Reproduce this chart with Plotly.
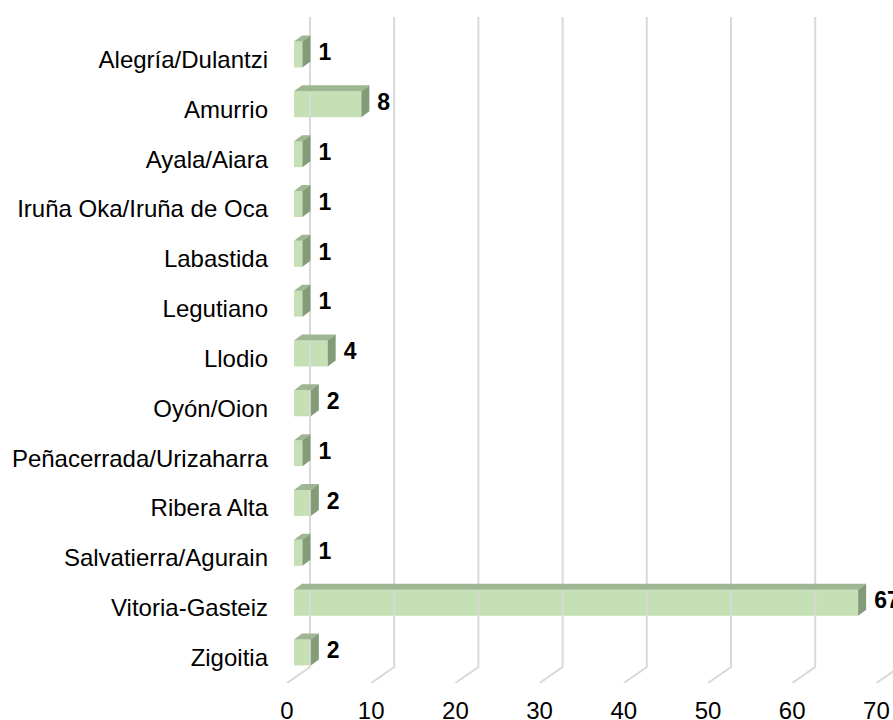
import plotly.graph_objects as go

# ---- data ----
categories = ["Alegría/Dulantzi", "Amurrio", "Ayala/Aiara", "Iruña Oka/Iruña de Oca",
              "Labastida", "Legutiano", "Llodio", "Oyón/Oion", "Peñacerrada/Urizaharra",
              "Ribera Alta", "Salvatierra/Agurain", "Vitoria-Gasteiz", "Zigoitia"]
values = [1, 8, 1, 1, 1, 1, 4, 2, 1, 2, 1, 67, 2]
x_ticks = [0, 10, 20, 30, 40, 50, 60, 70]

# ---- layout geometry (page pixels) ----
W, H = 893, 720
L = 271
T = 15
B = H - 683
R = 0
X0_PX, PX_PER_UNIT = 287.0, 8.42      # floor-front zero and scale
Y0_PX, PX_PER_ROW = 54.5, 49.83       # first row centre and row pitch


def dxu(px):
    return px / PX_PER_UNIT


def dyu(px):
    return px / PX_PER_ROW


x_range = [(L - X0_PX) / PX_PER_UNIT, (W - R - X0_PX) / PX_PER_UNIT]
y_range = [(H - B - Y0_PX) / PX_PER_ROW, (T - Y0_PX) / PX_PER_ROW]

rows = list(range(len(categories)))

FRONT = "#c5e0b4"
TOP = "#9fb693"
SIDE = "#839b77"
GRID = "#d9d9d9"

base = dxu(7)          # bar front face start
half_h = dyu(26) / 2   # half height of front face
ddx = dxu(8)           # depth offset x
ddy = dyu(6)           # depth offset y (upwards)

wall_dx = dxu(23)
y_grid_top = (17 - Y0_PX) / PX_PER_ROW
y_back = (667 - Y0_PX) / PX_PER_ROW
y_front = (683 - Y0_PX) / PX_PER_ROW

fig = go.Figure()

# gridlines (back wall + floor diagonals)
gx, gy = [], []
for t in x_ticks:
    gx += [t + wall_dx, t + wall_dx, t, None]
    gy += [y_grid_top, y_back, y_front, None]
fig.add_trace(go.Scatter(x=gx, y=gy, mode="lines", line=dict(color=GRID, width=2),
                         hoverinfo="skip", showlegend=False))

# front faces
fig.add_trace(go.Bar(y=rows, x=values, base=base, orientation="h", width=2 * half_h,
                     marker=dict(color=FRONT, line=dict(width=0)), showlegend=False))

# top and side faces
tx, ty = [], []
sx, sy = [], []
for r, v in zip(rows, values):
    x1 = base
    x2 = base + v
    yt = r - half_h
    yb = r + half_h
    tx += [x1, x2, x2 + ddx, x1 + ddx, x1, None]
    ty += [yt, yt, yt - ddy, yt - ddy, yt, None]
    sx += [x2, x2 + ddx, x2 + ddx, x2, x2, None]
    sy += [yt, yt - ddy, yb - ddy, yb, yt, None]
fig.add_trace(go.Scatter(x=tx, y=ty, mode="lines", fill="toself", fillcolor=TOP,
                         line=dict(width=0, color=TOP), hoverinfo="skip", showlegend=False))
fig.add_trace(go.Scatter(x=sx, y=sy, mode="lines", fill="toself", fillcolor=SIDE,
                         line=dict(width=0, color=SIDE), hoverinfo="skip", showlegend=False))

# data labels
fig.add_trace(go.Scatter(x=[base + v + ddx + dxu(8) for v in values], y=rows, mode="text",
                         text=[str(v) for v in values], textposition="middle right",
                         textfont=dict(family="Arial, Liberation Sans", size=23, color="#000000",
                                       weight="bold"),
                         cliponaxis=False, hoverinfo="skip", showlegend=False))

fig.update_layout(
    width=W, height=H,
    margin=dict(l=L, r=R, t=T, b=B, autoexpand=False),
    plot_bgcolor="white", paper_bgcolor="white",
    font=dict(family="Arial, Liberation Sans", size=24, color="#000000"),
    xaxis=dict(range=x_range, tickvals=x_ticks, showgrid=False, zeroline=False,
               showline=False, ticks="", ticklabelstandoff=11, fixedrange=True,
               automargin=False),
    yaxis=dict(range=y_range, tickvals=[r + dyu(5) for r in rows], ticktext=categories,
               showgrid=False, zeroline=False, showline=False, ticks="", ticklabelstandoff=2,
               fixedrange=True, automargin=False),
)

fig.write_html("out.html",
               config={"displayModeBar": False},
               post_script="document.body.style.margin='0';document.body.style.overflow='hidden';")
